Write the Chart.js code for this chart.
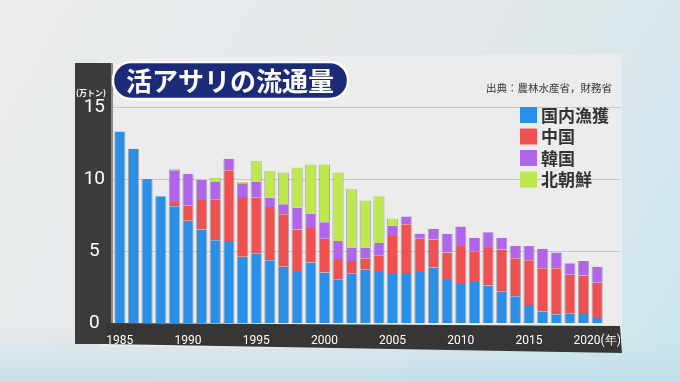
<!DOCTYPE html>
<html>
<head>
<meta charset="utf-8">
<script src="https://cdn.jsdelivr.net/npm/chart.js@4/dist/chart.umd.min.js"></script>
<style>
  html, body { margin: 0; padding: 0; background: #e6e9eb; }
  #wrap { width: 680px; height: 382px; position: relative; }
</style>
</head>
<body>
<div id="wrap"><canvas id="c" width="680" height="382"></canvas></div>
<script>
// 年 (1985-2020)
const years = [];
for (let y = 1985; y <= 2020; y++) years.push(y);

// 万トン
const domestic = [13.3, 12.1, 10.0, 8.8, 8.1, 7.1, 6.5, 5.75, 5.7, 4.6,
  4.85, 4.35, 3.9, 3.55, 4.2, 3.5, 3.0, 3.45, 3.7, 3.55,
  3.4, 3.4, 3.55, 3.85, 3.05, 2.7, 2.85, 2.6, 2.2, 1.85,
  1.25, 0.8, 0.6, 0.65, 0.7, 0.35];
const china = [0, 0, 0, 0, 0.3, 1.05, 2.05, 2.85, 4.9, 4.15,
  3.85, 3.7, 3.65, 2.95, 2.4, 2.35, 1.45, 0.85, 0.8, 1.15,
  2.65, 3.45, 2.3, 1.95, 1.85, 2.65, 2.1, 2.6, 2.9, 2.65,
  3.1, 3.0, 3.2, 2.7, 2.6, 2.45];
const korea = [0, 0, 0, 0, 2.2, 2.2, 1.4, 1.2, 0.8, 0.95,
  1.1, 0.65, 0.7, 1.5, 1.0, 1.15, 1.25, 0.95, 0.75, 0.85,
  0.7, 0.55, 0.35, 0.75, 1.3, 1.35, 0.95, 1.1, 0.8, 0.85,
  1.0, 1.35, 1.1, 0.8, 1.0, 1.1];
const northKorea = [0, 0, 0, 0, 0.1, 0, 0, 0.3, 0, 0.1,
  1.45, 1.85, 2.2, 2.8, 3.4, 4.0, 4.75, 4.05, 3.25, 3.25,
  0.5, 0, 0, 0, 0, 0, 0, 0, 0, 0,
  0, 0, 0, 0, 0, 0];

const seriesNames = ["国内漁獲", "中国", "韓国", "北朝鮮"];
const seriesColors = ["#2a8fe6", "#ee5150", "#b165ea", "#bde84e"];
const yTicks = [0, 5, 10, 15];

const decor = {
  id: "decor",
  beforeDraw(chart) {
    const ctx = chart.ctx;
    ctx.save();
    // background
    const bg = ctx.createLinearGradient(0, 0, 680, 382);
    bg.addColorStop(0, "#e9ebec");
    bg.addColorStop(0.6, "#e2e8ea");
    bg.addColorStop(1, "#c9e6ee");
    ctx.fillStyle = bg;
    ctx.fillRect(0, 0, 680, 382);
    const bg2 = ctx.createLinearGradient(0, 330, 0, 382);
    bg2.addColorStop(0, "rgba(200,225,235,0)");
    bg2.addColorStop(1, "rgba(190,220,235,0.8)");
    ctx.fillStyle = bg2;
    ctx.fillRect(0, 330, 680, 52);

    // panel
    ctx.fillStyle = "#ececec";
    ctx.beginPath();
    ctx.moveTo(100, 58); ctx.lineTo(622, 54); ctx.lineTo(622, 352); ctx.lineTo(100, 346);
    ctx.closePath(); ctx.fill();

    // y-axis dark bar
    ctx.fillStyle = "#3b3b3b";
    ctx.fillRect(75, 63, 36, 281);
    ctx.fillStyle = "#8a8a8a";
    ctx.fillRect(111, 63, 2, 260);

    // y gridlines
    const ys = chart.scales.y;
    ctx.strokeStyle = "#c9c9c9";
    ctx.lineWidth = 1;
    yTicks.slice(1).forEach(v => {
      const py = Math.round(ys.getPixelForValue(v)) + 0.5;
      ctx.beginPath(); ctx.moveTo(113, py); ctx.lineTo(620, py); ctx.stroke();
    });

    // x-axis dark strip
    ctx.fillStyle = "#363636";
    ctx.beginPath();
    ctx.moveTo(105, 323); ctx.lineTo(620, 326); ctx.lineTo(622, 353); ctx.lineTo(105, 344);
    ctx.closePath(); ctx.fill();
    ctx.restore();
  },
  afterDraw(chart) {
    const ctx = chart.ctx;
    ctx.save();
    // unit
    ctx.fillStyle = "#ffffff";
    ctx.font = "bold 8px 'Noto Sans CJK JP'";
    ctx.textAlign = "center";
    ctx.textBaseline = "middle";
    ctx.fillText("(万トン)", 91, 93);

    // title pill
    ctx.beginPath();
    ctx.roundRect(113, 62, 235, 37, 18);
    ctx.fillStyle = "#1c2b78";
    ctx.fill();
    ctx.lineWidth = 2.5;
    ctx.strokeStyle = "#ffffff";
    ctx.stroke();
    ctx.fillStyle = "#ffffff";
    ctx.font = "bold 26px 'Noto Sans CJK JP'";
    ctx.fillText("活アサリの流通量", 230, 81);

    // source
    ctx.fillStyle = "#333333";
    ctx.font = "10.5px 'Noto Sans CJK JP'";
    ctx.textAlign = "right";
    ctx.fillText("出典：農林水産省，財務省", 612, 88);

    // legend
    ctx.textAlign = "left";
    ctx.font = "bold 17px 'Noto Sans CJK JP'";
    chart.data.datasets.forEach((ds, i) => {
      const y = 107 + i * 21.5;
      ctx.fillStyle = ds.backgroundColor;
      ctx.fillRect(520, y, 17, 16);
      ctx.fillStyle = "#333333";
      ctx.fillText(ds.label, 541, y + 8.5);
    });
    ctx.restore();
  }
};

const allSeries = [domestic, china, korea, northKorea];

new Chart(document.getElementById("c"), {
  type: "bar",
  data: {
    labels: years,
    datasets: allSeries.map((d, i) => ({
      label: seriesNames[i],
      data: d,
      backgroundColor: seriesColors[i],
      borderColor: "rgba(40,40,60,0.35)",
      borderWidth: { left: 1, right: 1, top: 0, bottom: 0 },
      borderSkipped: false,
      barPercentage: 0.82,
      categoryPercentage: 1.0
    }))
  },
  options: {
    responsive: false,
    animation: false,
    layout: { padding: { left: 70, right: 76, top: 107, bottom: 34 } },
    plugins: { legend: { display: false }, tooltip: { enabled: false } },
    scales: {
      x: {
        stacked: true,
        grid: { display: false },
        border: { display: false },
        afterFit: s => { s.height = 25; },
        ticks: {
          autoSkip: false,
          maxRotation: 0,
          padding: 3,
          color: "#ffffff",
          font: { family: "'Liberation Sans Narrow', 'Roboto'", size: 12 },
          callback: function (v, i) {
            const yr = years[i];
            if (yr % 5 !== 0) return "";
            return yr === 2020 ? "2020(年)" : String(yr);
          }
        }
      },
      y: {
        stacked: true,
        min: 0, max: 15,
        afterFit: s => { s.width = 43; },
        afterBuildTicks: s => { s.ticks = yTicks.map(v => ({ value: v })); },
        grid: { display: false },
        border: { display: false },
        ticks: {
          crossAlign: "center",
          padding: 0,
          color: "#ffffff",
          font: { family: "'Liberation Sans Narrow', 'Roboto'", size: 19 }
        }
      }
    }
  },
  plugins: [decor]
});
</script>
</body>
</html>
